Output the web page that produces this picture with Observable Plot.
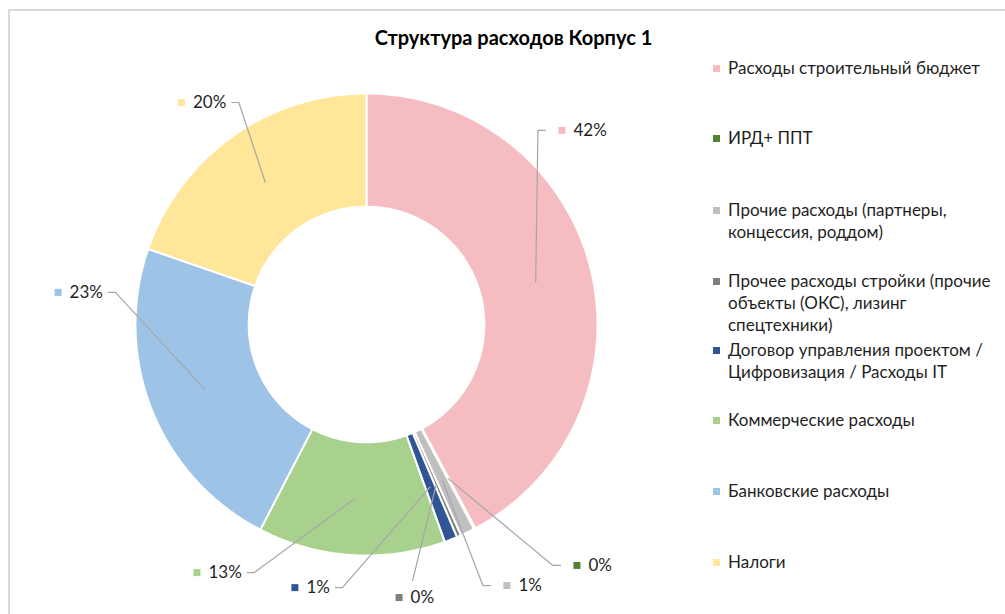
<!DOCTYPE html>
<html>
<head>
<meta charset="utf-8">
<script src="https://cdn.jsdelivr.net/npm/d3@7"></script>
<script src="https://cdn.jsdelivr.net/npm/@observablehq/plot@0.6"></script>
<style>
  body { margin: 0; background: #fff; font-family: Lato, "Open Sans", sans-serif; }
  #wrap { position: relative; width: 1005px; height: 614px; overflow: hidden; background: #fff; }
  #frame { position: absolute; left: 8px; top: 9px; width: 1200px; height: 900px;
           border-left: 2px solid #dadada; border-top: 2px solid #dadada; }
  #chart { position: absolute; left: 0; top: 0; }
  #title { position: absolute; left: 0; width: 1027px; top: 25px; text-align: center;
           font-weight: bold; font-size: 20px; color: #000; white-space: nowrap; }
  .leg { position: absolute; left: 713px; font-size: 17px; line-height: 22px; color: #1f1f1f; }
  .leg .sw { position: absolute; left: 0; top: 8px; width: 7px; height: 7px; }
  .leg .tx { position: absolute; left: 15px; top: 0; white-space: pre; }
</style>
</head>
<body>
<div id="wrap">
  <div id="frame"></div>
  <div id="chart"></div>
  <div id="title"></div>
  <div id="legend"></div>
</div>
<script>
// ---------- data ----------
const title = "Структура расходов Корпус 1";
const categories = [
  "Расходы строительный бюджет",
  "ИРД+ ППТ",
  "Прочие расходы (партнеры, концессия, роддом)",
  "Прочее расходы стройки (прочие объекты (ОКС), лизинг спецтехники)",
  "Договор управления проектом / Цифровизация / Расходы IT",
  "Коммерческие расходы",
  "Банковские расходы",
  "Налоги"
];
const shares = [42.2, 0.1, 1.0, 0.3, 0.9, 13.1, 22.7, 19.7];
const valueLabels = ["42%", "0%", "1%", "0%", "1%", "13%", "23%", "20%"];
const colors = ["#F5BDC2", "#548235", "#BFBFBF", "#7F7F7F", "#2F5597", "#A9D18E", "#9DC3E6", "#FFE699"];
// legend wrapping as in the original (line breaks only)
const legendLines = [
  ["Расходы строительный бюджет"],
  ["ИРД+ ППТ"],
  ["Прочие расходы (партнеры,", "концессия, роддом)"],
  ["Прочее расходы стройки (прочие", "объекты (ОКС), лизинг", "спецтехники)"],
  ["Договор управления проектом /", "Цифровизация / Расходы IT"],
  ["Коммерческие расходы"],
  ["Банковские расходы"],
  ["Налоги"]
];

// ---------- layout ----------
const W = 1005, H = 614;
const CX = 366, CY = 324, R = 231, HOLE = 0.51;
// data-label positions (unit space of the donut: outer radius = 1)
const labelPos = [[0.846, 0.840], [0.911, -1.043], [0.608, -1.130], [0.141, -1.182],
                  [-0.310, -1.139], [-0.734, -1.074], [-1.335, 0.139], [-0.801, 0.961]];
const labelSide = ["L", "L", "L", "T", "R", "R", "R", "R"];
const legendY = [68, 138, 210, 281, 350, 420, 491, 562];
const FONT = "Lato, 'Open Sans', sans-serif";
const LABEL_SIZE = 17;

// ---------- build ----------
document.getElementById("title").textContent = title;

const data = categories.map((c, i) => ({cat: c, share: shares[i], label: valueLabels[i], i}));
const arcs = d3.pie().sort(null).value(d => d.share).startAngle(0).endAngle(2 * Math.PI)(data);

const slicePts = [];
arcs.forEach(a => {
  const n = Math.max(2, Math.ceil((a.endAngle - a.startAngle) / 0.01));
  const ring = [];
  for (let k = 0; k <= n; k++) {
    const t = a.startAngle + (a.endAngle - a.startAngle) * k / n;
    ring.push({cat: a.data.cat, x: Math.sin(t), y: Math.cos(t)});
  }
  for (let k = n; k >= 0; k--) {
    const t = a.startAngle + (a.endAngle - a.startAngle) * k / n;
    ring.push({cat: a.data.cat, x: HOLE * Math.sin(t), y: HOLE * Math.cos(t)});
  }
  ring.push(ring[0]);
  slicePts.push(...ring);
});

const ctx = document.createElement("canvas").getContext("2d");
ctx.font = LABEL_SIZE + "px " + FONT;

const labels = arcs.map((a, i) => ({cat: a.data.cat, text: a.data.label, x: labelPos[i][0], y: labelPos[i][1]}));

const leaderPts = [];
const rm = (1 + HOLE) / 2;
arcs.forEach((a, i) => {
  const mid = (a.startAngle + a.endAngle) / 2;
  const start = {x: rm * Math.sin(mid), y: rm * Math.cos(mid)};
  const [lx, ly] = labelPos[i];
  const side = labelSide[i];
  let pts;
  if (side === "L") {
    pts = [start, {x: lx - 24 / R, y: ly}, {x: lx - 16.5 / R, y: ly}];
  } else if (side === "R") {
    const tw = ctx.measureText(a.data.label).width;
    const e = 11.5 + tw + 5.5;
    pts = [start, {x: lx + (e + 7) / R, y: ly}, {x: lx + e / R, y: ly}];
  } else {
    pts = [start, {x: lx + 13.5 / R, y: ly + 17 / R}];
  }
  pts.forEach(p => leaderPts.push({id: i, x: p.x, y: p.y}));
});

const chart = Plot.plot({
  width: W, height: H,
  margin: 0,
  x: {domain: [-CX / R, (W - CX) / R], axis: null},
  y: {domain: [-(H - CY) / R, CY / R], axis: null},
  color: {domain: categories, range: colors},
  style: {background: "none", fontFamily: FONT},
  marks: [
    Plot.line(slicePts, {x: "x", y: "y", z: "cat", fill: "cat", stroke: "white", strokeWidth: 2, curve: "linear", strokeLinejoin: "miter"}),
    Plot.line(leaderPts, {x: "x", y: "y", z: "id", stroke: "#a6a6a6", strokeWidth: 1.2, curve: "linear"}),
    Plot.dot(labels, {x: "x", y: "y", fill: "cat", symbol: "square", r: 7 / Math.sqrt(Math.PI), stroke: null}),
    Plot.text(labels, {x: "x", y: "y", text: "text", dx: 11.5, textAnchor: "start", fontSize: LABEL_SIZE, fill: "#1f1f1f"})
  ]
});
document.getElementById("chart").appendChild(chart);

const leg = document.getElementById("legend");
categories.forEach((c, i) => {
  const item = document.createElement("div");
  item.className = "leg";
  item.style.top = (legendY[i] - 11) + "px";
  const sw = document.createElement("div");
  sw.className = "sw";
  sw.style.background = colors[i];
  const tx = document.createElement("div");
  tx.className = "tx";
  tx.textContent = legendLines[i].join("\n");
  item.appendChild(sw);
  item.appendChild(tx);
  leg.appendChild(item);
});
</script>
</body>
</html>
